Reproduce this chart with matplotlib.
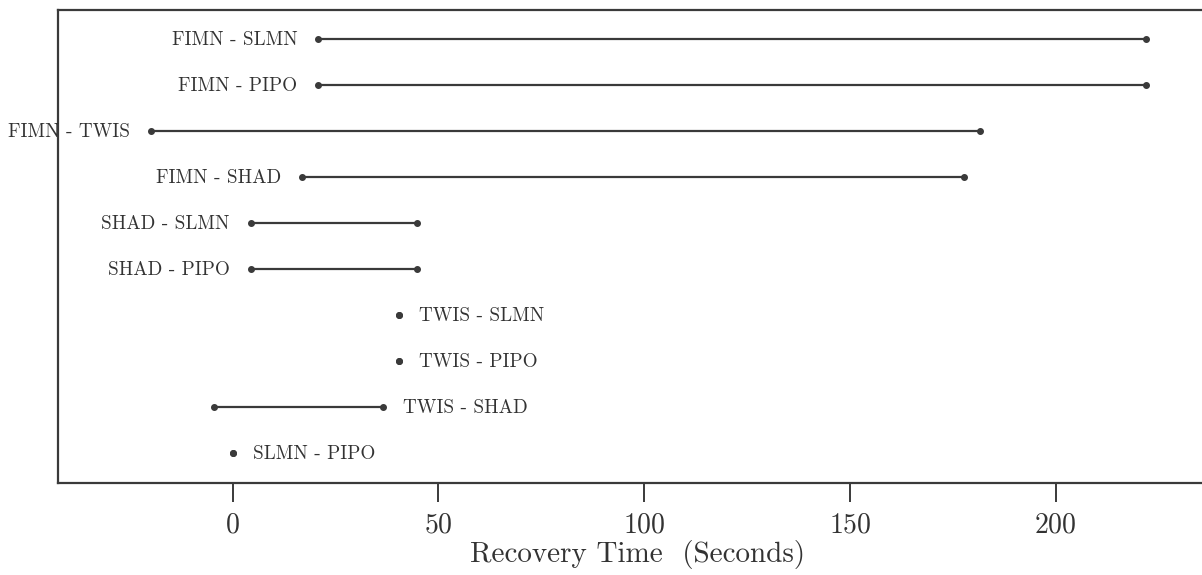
import numpy as np
import matplotlib
matplotlib.use("Agg")
from matplotlib import pyplot as plt
from matplotlib import transforms

plt.rcParams['font.family'] = ['cmr10', 'DejaVu Serif']
plt.rcParams['axes.formatter.use_mathtext'] = True

# Pairwise comparisons (top to bottom) and interval ends in seconds
pairs = ["FIMN - SLMN", "FIMN - PIPO", "FIMN - TWIS", "FIMN - SHAD",
         "SHAD - SLMN", "SHAD - PIPO", "TWIS - SLMN", "TWIS - PIPO",
         "TWIS - SHAD", "SLMN - PIPO"]
lower = [20.8, 20.8, -19.9, 16.8, 4.4, 4.4, 40.5, 40.5, -4.5, 0.0]
upper = [221.9, 221.9, 181.7, 177.8, 44.9, 44.9, 40.5, 40.5, 36.6, 0.0]
label_side = ["left", "left", "left", "left", "left", "left",
              "right", "right", "right", "right"]
xticks = [0, 50, 100, 150, 200]

W, H = 1202, 575
fig = plt.figure(figsize=(W / 100, H / 100), dpi=100)
# axes runs past the right edge of the figure, like the scanned original
ax = fig.add_axes([57.7 / W, (H - 482.7) / H, (1260 - 57.7) / W, (482.7 - 10) / H])

col = '#3a3a3a'
for i, name in enumerate(pairs):
    lo, hi = lower[i], upper[i]
    if hi > lo:
        ax.plot([lo, hi], [i, i], color=col, lw=1.6, solid_capstyle='butt')
    ax.plot([lo, hi], [i, i], 'o', color=col, ms=4, mec=col)
    if label_side[i] == "left":
        ax.annotate(name, (lo, i), xytext=(-15, -0.5), textcoords='offset points',
                    ha='right', va='center', fontsize=13.8, color='#333333',
                    annotation_clip=False)
    else:
        ax.annotate(name, (hi, i), xytext=(14.5, -0.5), textcoords='offset points',
                    ha='left', va='center', fontsize=13.8, color='#333333',
                    annotation_clip=False)

px = 4.115  # pixels per second
ax.set_xlim((57.7 - 232.7) / px, (1260 - 232.7) / px)
ax.set_ylim(9.64, -0.64)

ax.set_xticks(xticks)
ax.set_yticks([])
ax.tick_params(axis='x', length=14, width=1.4, color=col, labelsize=20,
               pad=7, labelcolor='#333333')
for s in ax.spines.values():
    s.set_linewidth(1.6)
    s.set_color(col)

ax.set_xlabel("Recovery Time  (Seconds)", fontsize=21, color='#333333')
ax.xaxis.set_label_coords(98.5, -0.122,
                          transform=transforms.blended_transform_factory(ax.transData, ax.transAxes))

fig.savefig("out.png", dpi=100)
